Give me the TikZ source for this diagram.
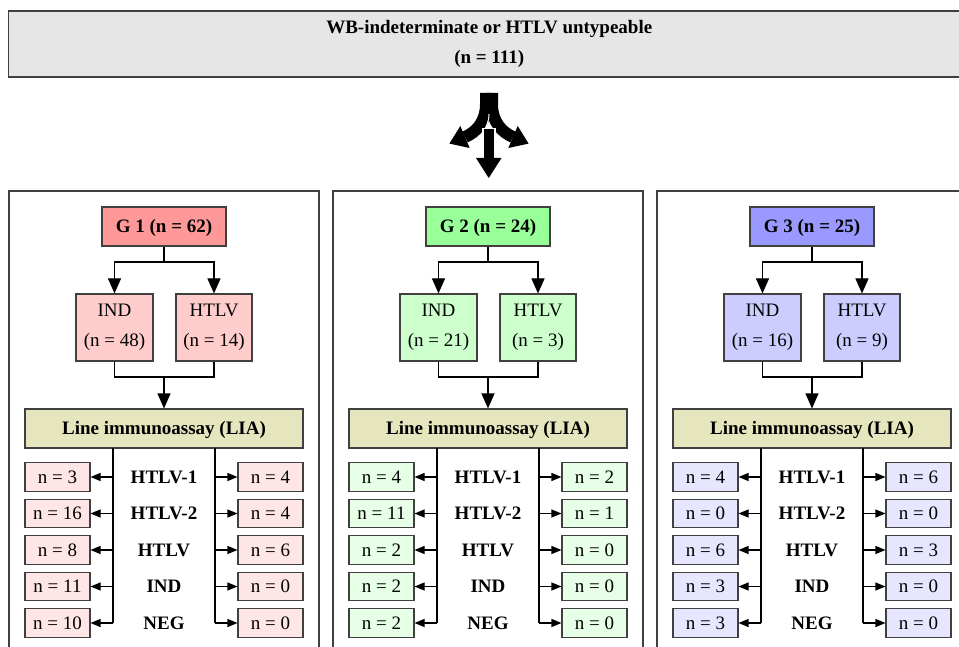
\documentclass[tikz,border=0pt]{standalone}
\usepackage{fontspec}
\setmainfont{Liberation Serif}
\usetikzlibrary{arrows.meta,calc}
\definecolor{frameC}{HTML}{404040}
\definecolor{topfill}{HTML}{E6E6E6}
\definecolor{liacol}{HTML}{E6E6BE}
\definecolor{gcol1}{HTML}{FF9999}
\definecolor{gcol2}{HTML}{99FF99}
\definecolor{gcol3}{HTML}{9999FF}
\definecolor{scol1}{HTML}{FFCCCC}
\definecolor{scol2}{HTML}{CCFFCC}
\definecolor{scol3}{HTML}{CCCCFF}
\definecolor{rcol1}{HTML}{FFE6E6}
\definecolor{rcol2}{HTML}{E6FFE6}
\definecolor{rcol3}{HTML}{E6E6FF}
\begin{document}
\begin{tikzpicture}[x=1pt,y=-1pt,
  txt/.style={font=\fontsize{19}{22}\selectfont},
  base/.style={txt, inner sep=0pt, draw=frameC, line width=1.1pt},
  gbox/.style={base, font=\fontsize{19}{22}\selectfont\bfseries, minimum width=124pt, minimum height=39pt, text height=12.8pt, text depth=0pt},
  sbox/.style={base, align=center, minimum width=77pt, minimum height=67pt},
  liabox/.style={base, fill=liacol, font=\fontsize{19}{22}\selectfont\bfseries, minimum width=278pt, minimum height=39pt, text height=12.8pt, text depth=0pt},
  rbox/.style={base, minimum width=65pt, minimum height=28.5pt, text height=12.8pt, text depth=0pt},
  rowlab/.style={txt, font=\fontsize{19}{22}\selectfont\bfseries, inner sep=0pt, text height=12.8pt, text depth=0pt},
  panel/.style={draw=frameC, line width=1.3pt},
  conn/.style={draw=black, line width=1.1pt},
  bigarrow/.style={conn, -{Triangle[width=13pt,length=15pt]}},
  smallarrow/.style={conn, -{Triangle[width=8pt,length=10pt]}},
  branch/.style={draw=black, line width=12pt}]
\useasboundingbox (0,0) rectangle (959,647);
\clip (0,0) rectangle (959,647);
% title
\node[base, fill=topfill, line width=1.8pt, align=center, minimum width=961.5pt, minimum height=66pt] (top) at (489.25,44)
  {\bfseries WB-indeterminate or HTLV untypeable\\[8pt]\bfseries (n = 111)};
% split arrow symbol
\draw[branch] (486,93) -- (486,104) .. controls (486,122) and (476,132.3) .. (465,137);
\fill[black] (449.4,143.6) -- (469.7,148) -- (460.3,126) -- cycle;
\draw[branch] (492,93) -- (492,104) .. controls (492,122) and (502,132.3) .. (513,137);
\fill[black] (528.6,143.6) -- (508.3,148) -- (517.7,126) -- cycle;
\draw[white, line width=1pt] (489,114) .. controls (489,122) and (486,126) .. (485,129);
\fill[white] (481.5,128) rectangle (496,160);
\fill[black] (483.5,129.5) rectangle (494,160);
\fill[black] (476,158) -- (501.5,158) -- (488.75,178) -- cycle;
% panels
\foreach \i/\dx/\gn/\ni/\nh/\Lv/\Rv in {1/0/62/48/14/{3,16,8,11,10}/{4,4,6,0,0},2/324/24/21/3/{4,11,2,2,2}/{2,1,0,0,0},3/648/25/16/9/{4,0,6,3,3}/{6,0,3,0,0}} {
  \draw[panel] (9+\dx,191) rectangle (319+\dx,690);
  \node[gbox, fill=gcol\i] (g\i) at (164+\dx,226.5) {G \i\ (n = \gn)};
  \node[sbox, fill=scol\i] (ind\i) at (114.5+\dx,327.5) {IND\\[8pt](n = \ni)};
  \node[sbox, fill=scol\i, minimum width=76pt] (htlv\i) at (214+\dx,327.5) {HTLV\\[8pt](n = \nh)};
  \node[liabox] (lia\i) at (164+\dx,428.5) {Line immunoassay (LIA)};
  \coordinate (s\i) at (164+\dx,262);
  \coordinate (m\i) at (164+\dx,377);
  \draw[conn] (g\i.south) -- (s\i);
  \draw[bigarrow] (s\i) -| (ind\i.north);
  \draw[bigarrow] (s\i) -| (htlv\i.north);
  \draw[conn] (ind\i.south) |- (m\i) -| (htlv\i.south);
  \draw[bigarrow] (m\i) -- (lia\i.north);
  \foreach \v [count=\k] in \Lv {
    \node[rbox, fill=rcol\i] (l\i\k) at (57.5+\dx,{440.5+36.5*\k}) {n = \v};
  }
  \foreach \v [count=\k] in \Rv {
    \node[rbox, fill=rcol\i] (r\i\k) at (270.5+\dx,{440.5+36.5*\k}) {n = \v};
  }
  \foreach \lab [count=\k] in {HTLV-1,HTLV-2,HTLV,IND,NEG} {
    \node[rowlab] (t\i\k) at (164+\dx,{440.5+36.5*\k}) {\lab};
  }
  \coordinate (vl\i) at (113+\dx,448);
  \coordinate (vr\i) at (215+\dx,448);
  \draw[conn] (vl\i) -- (vl\i |- l\i5.east);
  \draw[conn] (vr\i) -- (vr\i |- r\i5.west);
  \foreach \k in {1,...,5} {
    \draw[smallarrow] (vl\i |- l\i\k.east) -- (l\i\k.east);
    \draw[smallarrow] (vr\i |- r\i\k.west) -- (r\i\k.west);
  }
}
\end{tikzpicture}
\end{document}
